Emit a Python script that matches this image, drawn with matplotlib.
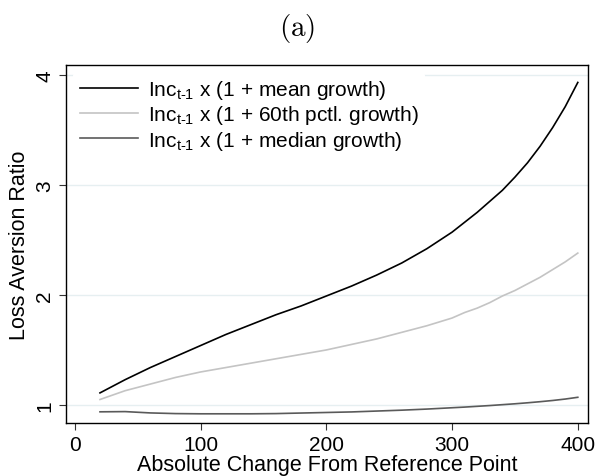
import numpy as np
import matplotlib
matplotlib.use("Agg")
from matplotlib import pyplot as plt

## values
change = [20, 40, 60, 80, 100, 120, 140, 160, 180, 200,
          220, 240, 260, 280, 300, 310, 320, 330, 340, 350, 360, 370, 380, 390, 400]
mean_growth = [1.11, 1.23, 1.34, 1.44, 1.54, 1.64, 1.73, 1.82, 1.90, 1.99,
               2.08, 2.18, 2.29, 2.42, 2.57, 2.66, 2.75, 2.85, 2.95, 3.07,
               3.20, 3.35, 3.52, 3.71, 3.93]
pctl60_growth = [1.05, 1.13, 1.19, 1.25, 1.30, 1.34, 1.38, 1.42, 1.46, 1.50,
                 1.55, 1.60, 1.66, 1.72, 1.79, 1.84, 1.88, 1.93, 1.99, 2.04,
                 2.10, 2.16, 2.23, 2.30, 2.38]
median_growth = [0.938, 0.94, 0.928, 0.922, 0.92, 0.92, 0.92, 0.922, 0.927, 0.932,
                 0.937, 0.945, 0.953, 0.963, 0.975, 0.981, 0.988, 0.995, 1.003, 1.011,
                 1.02, 1.03, 1.041, 1.054, 1.07]
labels = [r"Inc$_{\text{t-1}}$ x (1 + mean growth)",
          r"Inc$_{\text{t-1}}$ x (1 + 60th pctl. growth)",
          r"Inc$_{\text{t-1}}$ x (1 + median growth)"]
x_ticks = [0, 100, 200, 300, 400]
y_ticks = [1, 2, 3, 4]

plt.rcParams["font.family"] = ["Liberation Sans", "DejaVu Sans"]
plt.rcParams["mathtext.fontset"] = "custom"
plt.rcParams["mathtext.rm"] = "Liberation Sans"
plt.rcParams["mathtext.it"] = "Liberation Sans"

fig = plt.figure(figsize=(5.95, 4.77), dpi=100)
ax = fig.add_axes([0.111, 0.111, 0.877, 0.751])

for yt in y_ticks:
    ax.axhline(yt, color="#e6eff1", lw=1.0, zorder=0)

ax.plot(change, mean_growth, color="black", lw=1.2, label=labels[0])
ax.plot(change, pctl60_growth, color="#c4c4c4", lw=1.2, label=labels[1])
ax.plot(change, median_growth, color="#5a5a5a", lw=1.2, label=labels[2])

ax.set_xlim(-7, 408)
ax.set_ylim(0.836, 4.09)
ax.set_xticks(x_ticks)
ax.set_yticks(y_ticks)
ax.tick_params(axis="both", direction="out", length=5, width=0.8,
               labelsize=15, color="#333333")
plt.setp(ax.get_yticklabels(), rotation=90, va="center")
for s in ax.spines.values():
    s.set_linewidth(1.0)

ax.set_xlabel("Absolute Change From Reference Point", fontsize=15.5, labelpad=0)
ax.set_ylabel("Loss Aversion Ratio", fontsize=15.5, labelpad=4)

leg = ax.legend(loc="upper left", fontsize=15, frameon=True, framealpha=1,
                edgecolor="white", handlelength=2.8, handletextpad=0.5,
                labelspacing=0.1, borderpad=0.3, borderaxespad=0.35)
leg.get_frame().set_linewidth(0)

fig.text(0.5, 0.94, r"$\mathrm{(a)}$", ha="center", va="center",
         fontsize=21, math_fontfamily="cm")

fig.savefig("out.png", dpi=100)
